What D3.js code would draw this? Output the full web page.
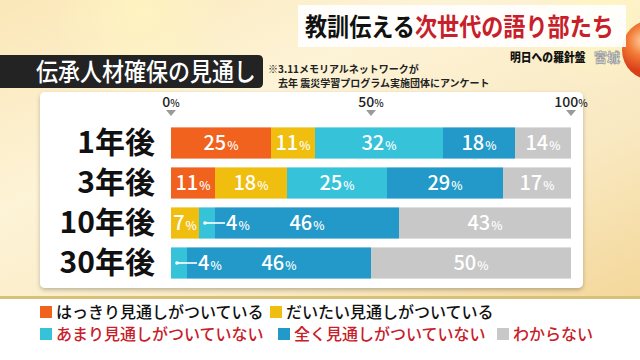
<!DOCTYPE html>
<html><head><meta charset="utf-8">
<script src="https://cdn.jsdelivr.net/npm/d3@7"></script>
<style>
html,body{margin:0;padding:0;background:#fff;}
svg{display:block;font-family:"Noto Sans CJK JP","Noto Sans",sans-serif;}
</style></head>
<body>
<script>
const categories = ["1年後","3年後","10年後","30年後"];
const seriesNames = ["はっきり見通しがついている","だいたい見通しがついている","あまり見通しがついていない","全く見通しがついていない","わからない"];
const clearly   = [25, 11, 0, 0];
const roughly   = [11, 18, 7, 0];
const notMuch   = [32, 25, 4, 4];
const notAtAll  = [18, 29, 46, 46];
const unknown   = [14, 17, 43, 50];
const tickValues = [0, 50, 100];
const tickLabels = ["0", "50", "100"];
const colors = ["#F0621E", "#EFBE0E", "#36C3DA", "#2299C8", "#C8C8C8"];

const W = 640, H = 360;
const svg = d3.select("body").append("svg").attr("width", W).attr("height", H);
const defs = svg.append("defs");

// background
const bg = defs.append("linearGradient").attr("id","bg").attr("x1","0").attr("y1","0").attr("x2","1").attr("y2","1");
bg.append("stop").attr("offset","0").attr("stop-color","#fbe7b8");
bg.append("stop").attr("offset","0.35").attr("stop-color","#fdf3d6");
bg.append("stop").attr("offset","0.7").attr("stop-color","#f9e9c2");
bg.append("stop").attr("offset","1").attr("stop-color","#f4d79a");
svg.append("rect").attr("width",W).attr("height",300).attr("fill","url(#bg)");
const glow = defs.append("radialGradient").attr("id","glow");
glow.append("stop").attr("offset","0").attr("stop-color","#fff6c0").attr("stop-opacity",1);
glow.append("stop").attr("offset","1").attr("stop-color","#fff6c0").attr("stop-opacity",0);
svg.append("circle").attr("cx",600).attr("cy",20).attr("r",70).attr("fill","url(#glow)");
svg.append("circle").attr("cx",140).attr("cy",10).attr("r",90).attr("fill","url(#glow)").attr("opacity",0.7);
// sphere
const sph = defs.append("radialGradient").attr("id","sph").attr("cx","0.35").attr("cy","0.35");
sph.append("stop").attr("offset","0").attr("stop-color","#ffd0a0");
sph.append("stop").attr("offset","0.5").attr("stop-color","#f27a35");
sph.append("stop").attr("offset","1").attr("stop-color","#d9401a");
svg.append("circle").attr("cx",652).attr("cy",50).attr("r",30).attr("fill","url(#sph)");

// legend area white
svg.append("rect").attr("y",299).attr("width",W).attr("height",61).attr("fill","#ffffff");
svg.append("rect").attr("y",296).attr("width",W).attr("height",3).attr("fill","#d8c27a");

// top title (condensed via horizontal scale)
svg.append("rect").attr("x",298).attr("y",5).attr("width",328).attr("height",42).attr("fill","#ffffff").attr("opacity",0.92);
const tt = svg.append("text").attr("transform","translate(305,36) scale(0.885,1)")
  .attr("font-size",25).attr("font-weight",700);
tt.append("tspan").attr("fill","#111").text("教訓伝える");
tt.append("tspan").attr("fill","#C8202A").text("次世代の語り部たち");

// logo
svg.append("text").attr("transform","translate(510,62) scale(0.9,1)").attr("font-size",12).attr("font-weight",900).attr("fill","#111")
  .text("明日への羅針盤");
svg.append("text").attr("x",594).attr("y",62).attr("font-size",13).attr("font-weight",700).attr("fill","#fff")
  .attr("stroke","#9a9a9a").attr("stroke-width",0.8).text("宮城");

// black title band
svg.append("path").attr("d","M0,55 H258 Q263,55 263,60 V83 Q263,88 258,88 H0 Z").attr("fill","#232323");
svg.append("text").attr("transform","translate(36,81) scale(0.88,1)").attr("font-size",25).attr("font-weight",500).attr("fill","#fff")
  .text("伝承人材確保の見通し");

// note
svg.append("text").attr("x",268).attr("y",73).attr("font-size",10).attr("font-weight",700).attr("fill","#222").text("※3.11メモリアルネットワークが");
svg.append("text").attr("x",278).attr("y",87).attr("font-size",10).attr("font-weight",700).attr("fill","#222").text("去年 震災学習プログラム実施団体にアンケート");

// panel
const sh = defs.append("filter").attr("id","sh").attr("x","-5%").attr("y","-5%").attr("width","110%").attr("height","115%");
sh.append("feDropShadow").attr("dx",0).attr("dy",2).attr("stdDeviation",2).attr("flood-color","#000").attr("flood-opacity",0.25);
svg.append("rect").attr("x",40).attr("y",92).attr("width",543).attr("height",196).attr("rx",5)
  .attr("fill","#fff").attr("filter","url(#sh)");

// scales
const x = d3.scaleLinear().domain([0,100]).range([171,571]);
const y = d3.scaleBand().domain(categories).range([123,283]).paddingInner(0.22).paddingOuter(0.11);

// axis labels
const ax = svg.append("g");
tickValues.forEach((v,i) => {
  const t = ax.append("text").attr("x",x(v)).attr("y",107).attr("text-anchor","middle")
    .attr("font-weight",500).attr("fill","#222");
  t.append("tspan").attr("font-size",14).text(tickLabels[i]);
  t.append("tspan").attr("font-size",10).text("%");
  ax.append("path").attr("d",`M${x(v)-5},${110} L${x(v)+5},${110} L${x(v)},${116} Z`).attr("fill","#9a9a9a");
});

// stack
const series = [clearly, roughly, notMuch, notAtAll, unknown];
const rows = categories.map((c,i) => {
  const o = {cat:c};
  seriesNames.forEach((s,j) => o[s] = series[j][i]);
  return o;
});
const stacked = d3.stack().keys(seriesNames)(rows);

const g = svg.append("g");
stacked.forEach((layer,j) => {
  g.selectAll(null).data(layer).join("rect")
    .attr("x", d => x(d[0])).attr("y", d => y(d.data.cat))
    .attr("width", d => x(d[1]) - x(d[0])).attr("height", y.bandwidth())
    .attr("fill", colors[j]);
});

// row labels
categories.forEach(c => {
  svg.append("text").attr("x",155).attr("y",y(c)+y.bandwidth()/2+10).attr("text-anchor","end")
    .attr("font-size",30).attr("font-weight",700).attr("fill","#111").text(c);
});

// value labels
function valText(sel, v, cx, cy, anchor) {
  const t = sel.append("text").attr("x",cx).attr("y",cy).attr("text-anchor",anchor)
    .attr("fill","#fff").attr("font-weight",500);
  t.append("tspan").attr("font-size",20).text(v);
  t.append("tspan").attr("font-size",12).attr("dx",1).text("%");
  return t;
}
stacked.forEach((layer,j) => {
  layer.forEach((d,i) => {
    const v = d[1]-d[0];
    if (v <= 0) return;
    const cy = y(d.data.cat) + y.bandwidth()/2 + 7;
    if (v >= 6) {
      valText(g, v, (x(d[0])+x(d[1]))/2, cy, "middle");
    } else {
      const my = y(d.data.cat) + y.bandwidth()/2;
      const x0 = (x(d[0])+x(d[1]))/2 - 2;
      g.append("circle").attr("cx",x0).attr("cy",my).attr("r",1.8).attr("fill","#fff");
      g.append("line").attr("x1",x0).attr("x2",x(d[1])+10).attr("y1",my).attr("y2",my)
        .attr("stroke","#fff").attr("stroke-width",1.6);
      valText(g, v, x(d[1])+11, cy, "start");
    }
  });
});

// legend
const leg = [
  {i:0, x:40, y:318, color:"#111"},
  {i:1, x:270, y:318, color:"#111"},
  {i:2, x:40, y:340, color:"#C8202A"},
  {i:3, x:278, y:340, color:"#C8202A"},
  {i:4, x:497, y:340, color:"#C8202A"}
];
leg.forEach(l => {
  svg.append("rect").attr("x",l.x).attr("y",l.y-12).attr("width",12).attr("height",12).attr("fill",colors[l.i]);
  svg.append("text").attr("x",l.x+16).attr("y",l.y).attr("font-size",16).attr("font-weight",500)
    .attr("fill",l.color).text(seriesNames[l.i]);
});
</script>
</body></html>
